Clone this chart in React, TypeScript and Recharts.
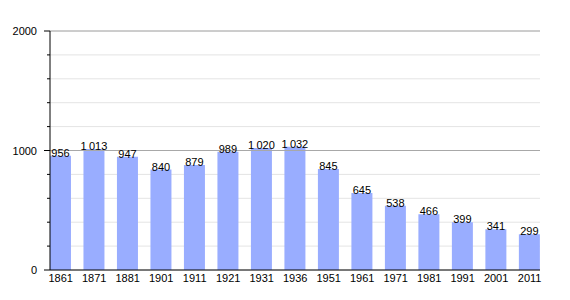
import { BarChart, Bar, XAxis, YAxis, CartesianGrid, ReferenceLine, LabelList } from "recharts";

const YEARS = ["1861", "1871", "1881", "1901", "1911", "1921", "1931", "1936", "1951", "1961", "1971", "1981", "1991", "2001", "2011"];
const POPULATION = [956, 1013, 947, 840, 879, 989, 1020, 1032, 845, 645, 538, 466, 399, 341, 299];
const Y_TICKS = [0, 200, 400, 600, 800, 1000, 1200, 1400, 1600, 1800, 2000];
const Y_LABELS = [0, 1000, 2000];

const data = YEARS.map((year, i) => ({ idx: i, year, pop: POPULATION[i] }));

const FONT = "'Liberation Sans', Arial, sans-serif";

// thousands with a thin space, like "1 013"
const fmt = (v: number) => (v >= 1000 ? `${Math.floor(v / 1000)}\u202f${String(v % 1000).padStart(3, "0")}` : String(v));

function YTick(props: any) {
  const { x, y, payload } = props;
  const major = Y_LABELS.includes(payload.value);
  return (
    <g>
      <line x1={major ? x - 6 : x - 3} x2={x} y1={y} y2={y} stroke="#000" strokeWidth={1} />
      {major && (
        <text x={x - 13} y={y} dy={4} textAnchor="end" fontSize={11} fill="#000" fontFamily={FONT}>
          {payload.value}
        </text>
      )}
    </g>
  );
}

export default function App() {
  return (
    <div style={{ position: "absolute", left: 0, top: 0, width: 570, height: 300, background: "#fff" }}>
      <BarChart width={570} height={300} data={data} margin={{ top: 31, right: 30, left: 0, bottom: 0 }}>
        <CartesianGrid stroke="#e4e4e4" vertical={false} />
        <ReferenceLine y={1000} stroke="#a8a8a8" />
        <ReferenceLine y={2000} stroke="#a8a8a8" />
        <XAxis
          type="number"
          dataKey="idx"
          domain={[-0.32, 14.31]}
          ticks={data.map((d) => d.idx)}
          tickFormatter={(v: number) => YEARS[v]}
          height={30}
          tickLine={false}
          tickSize={0}
          tickMargin={4}
          axisLine={{ stroke: "#000" }}
          tick={{ fontSize: 11, fill: "#000", fontFamily: FONT }}
        />
        <YAxis
          width={50}
          domain={[0, 2000]}
          ticks={Y_TICKS}
          interval={0}
          tickSize={0}
          tickMargin={0}
          tickLine={false}
          axisLine={{ stroke: "#000" }}
          tick={<YTick />}
        />
        <Bar dataKey="pop" fill="#99adff" barSize={21} isAnimationActive={false}>
          <LabelList
            dataKey="pop"
            position="top"
            offset={-1}
            formatter={(v: any) => fmt(Number(v))}
            style={{ fontSize: 11, fill: "#000", fontFamily: FONT }}
          />
        </Bar>
      </BarChart>
    </div>
  );
}
